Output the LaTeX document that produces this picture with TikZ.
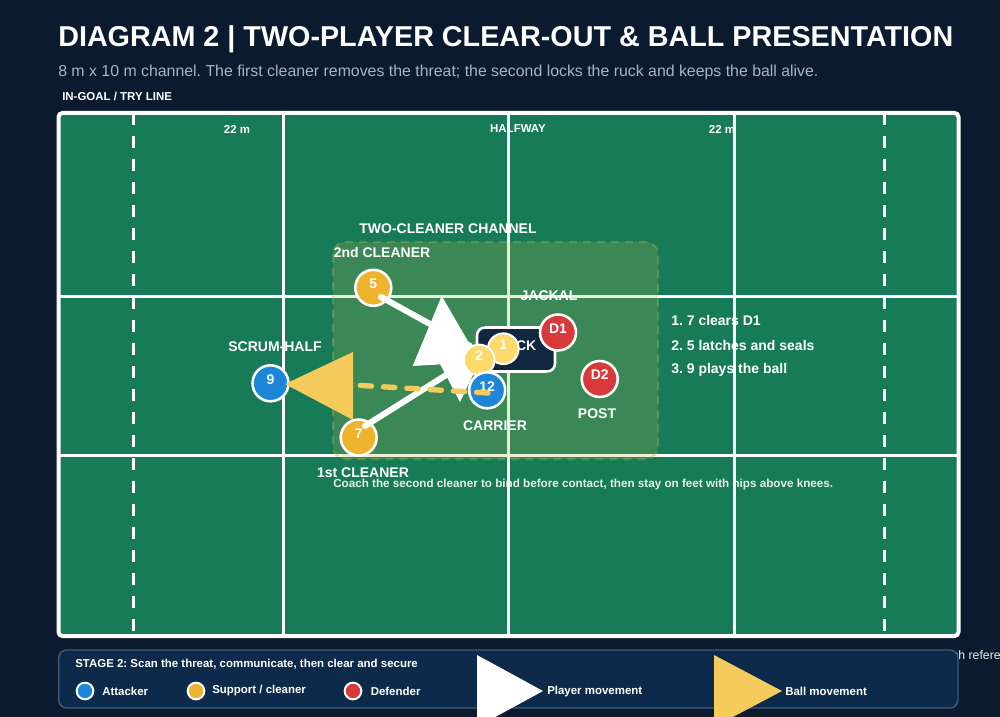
\documentclass[tikz,border=0pt]{standalone}
\usepackage{fontspec}
\setmainfont{Liberation Sans}
\frenchspacing
\definecolor{bg}{HTML}{0B1A2F}
\definecolor{field}{HTML}{187B57}
\definecolor{subt}{HTML}{A7B4C6}
\definecolor{navy}{HTML}{11263F}
\definecolor{pblue}{HTML}{1E86D8}
\definecolor{pyel}{HTML}{EEB42E}
\definecolor{plyel}{HTML}{FCD96A}
\definecolor{pred}{HTML}{D83A3C}
\definecolor{ball}{HTML}{F5CB5C}
\definecolor{legfill}{HTML}{0D2A4A}
\definecolor{legdraw}{HTML}{3D5C7C}
\definecolor{chan}{HTML}{ADB453}
\definecolor{note}{HTML}{E6EEE9}
\begin{document}
\begin{tikzpicture}[x=0.75pt,y=-0.75pt,
  fline/.style={white, line width=2.25pt},
  dline/.style={white, line width=2.25pt, dash pattern=on 9pt off 8.25pt},
  lbl/.style={font=\bfseries\fontsize{10.5}{12}\selectfont, text=white, inner sep=0pt},
  small/.style={font=\bfseries\fontsize{8.6}{10}\selectfont, text=white, inner sep=0pt},
  plr/.style={circle, draw=white, line width=1.9pt, minimum size=27pt, inner sep=0pt},
  splr/.style={circle, draw=white, line width=1.5pt, minimum size=23pt, inner sep=0pt, fill=plyel},
  num/.style={font=\bfseries\fontsize{10.5}{12}\selectfont, text=white, inner sep=0pt},
  mv/.style={white, line width=4.5pt, line cap=round},
  bl/.style={ball, line width=4pt, line cap=round, dash pattern=on 8.5pt off 9pt},
  leg/.style={font=\bfseries\fontsize{8.6}{10}\selectfont, text=white, inner sep=0pt, anchor=west},
  legc/.style={circle, draw=white, line width=1.5pt, minimum size=12.5pt, inner sep=0pt}
]
\useasboundingbox (0,0) rectangle (1000,717);
\clip (0,0) rectangle (1000,717);
\fill[bg] (0,0) rectangle (1000,717);

% header
\node[anchor=west, font=\bfseries\fontsize{21.55}{24}\selectfont, text=white, inner sep=0pt] (title) at (58,39) {DIAGRAM 2 | TWO-PLAYER CLEAR-OUT \& BALL PRESENTATION};
\node[anchor=west, font=\fontsize{11.9}{14}\selectfont, text=subt, inner sep=0pt] (subtitle) at (58,72.5) {8 m x 10 m channel. The first cleaner removes the threat; the second locks the ruck and keeps the ball alive.};
\node[small, anchor=west] (ingoal) at (62,96) {IN-GOAL / TRY LINE};

% stray text at right edge (under legend)
\node[anchor=west, font=\fontsize{9.2}{10}\selectfont, text=note, inner sep=0pt] (stray) at (952,655) {ch reference};

% field
\fill[field, rounded corners=3pt] (58.5,113) rectangle (958.5,636);
\node[small] (t22a) at (237,129) {22 m};
\node[small] (thalf) at (518,129) {HALFWAY};
\node[small] (t22b) at (722,129) {22 m};
\node[lbl, anchor=west] (s1) at (671,320) {1. 7 clears D1};
\node[lbl, anchor=west] (s2) at (671,345) {2. 5 latches and seals};
\node[lbl, anchor=west] (s3) at (671,370) {3. 9 plays the ball};
\node[anchor=west, font=\bfseries\fontsize{8.75}{10}\selectfont, text=note, inner sep=0pt] (coach) at (333,484) {Coach the second cleaner to bind before contact, then stay on feet with hips above knees.};

\draw[dline] (133,113) -- (133,636);
\draw[dline] (884,113) -- (884,636);
\draw[fline] (283,113) -- (283,636);
\draw[fline] (508,113) -- (508,636);
\draw[fline] (734,113) -- (734,636);
\draw[fline] (58.5,296) -- (958.5,296);
\draw[fline] (58.5,455) -- (958.5,455);
\draw[white, line width=3pt, rounded corners=3pt] (58.5,113) rectangle (958.5,636);

% channel
\fill[chan, fill opacity=0.24, rounded corners=9pt] (333,242) rectangle (658,459);
\draw[chan, draw opacity=0.35, line width=1.5pt, dash pattern=on 6pt off 4.5pt, rounded corners=9pt] (333,242) rectangle (658,459);

% labels
\node[lbl] (lchan) at (448,229) {TWO-CLEANER CHANNEL};
\node[lbl] (l2nd) at (382,252) {2nd CLEANER};
\node[lbl] (ljack) at (549,296) {JACKAL};
\node[lbl] (lsh) at (275,347) {SCRUM-HALF};
\node[lbl] (lpost) at (597,414) {POST};
\node[lbl] (lcarr) at (495,426) {CARRIER};
\node[lbl] (l1st) at (363,473) {1st CLEANER};

% players (first layer)
\node[plr, fill=pyel] (p5) at (373.3,287.8) {};
\node[num] (n5) at ([yshift=3pt]p5.center) {5};
\node[plr, fill=pyel] (p7) at (358.7,437.5) {};
\node[num] (n7) at ([yshift=3pt]p7.center) {7};
\node[plr, fill=pblue] (p9) at (270.5,383.3) {};
\node[num] (n9) at ([yshift=3pt]p9.center) {9};
\node[plr, fill=pred] (pD2) at (599.7,379) {};
\node[num] (nD2) at ([yshift=3pt]pD2.center) {D2};

% player movement
\coordinate (a5s) at (381,297);
\coordinate (a5e) at (470,346);
\coordinate (a7s) at (365,426);
\coordinate (a7e) at (470,360);
\draw[mv] (a5s) -- (a5e);
\draw[mv] (a7s) -- (a7e);
\fill[white] (441.7,296) -- (412.7,366) -- (480,362) -- cycle;
\fill[white] (460,402) -- (430,345) -- (485,350) -- cycle;

% ruck
\node[draw=white, line width=1.9pt, fill=navy, rounded corners=6pt, minimum width=58.5pt, minimum height=33pt, inner sep=0pt] (ruck) at (516,349.5) {};
\node[num] (nruck) at ([yshift=3pt]ruck.center) {RUCK};
\node[plr, fill=pred] (pD1) at (558,332.5) {};
\node[num] (nD1) at ([yshift=3pt]pD1.center) {D1};
\node[splr] (p1) at (503.3,348.7) {};
\node[num] (n1) at ([yshift=3pt]p1.center) {1};
\node[splr] (p2) at (479.2,360) {};
\node[num] (n2) at ([yshift=3pt]p2.center) {2};
\node[plr, fill=pblue] (p12) at (487.2,390.3) {};
\node[num] (n12) at ([yshift=3pt]p12.center) {12};

% ball movement
\coordinate (bs) at (488,393);
\coordinate (be) at (353,385);
\draw[bl] (bs) -- (be);
\fill[ball] (353,352) -- (353,420) -- (285,384) -- cycle;

% legend
\draw[legdraw, fill=legfill, line width=1.1pt, rounded corners=6pt] (58.7,650) rectangle (958,708);
\node[leg] (stage) at (75,664) {STAGE 2: Scan the threat, communicate, then clear and secure};
\node[legc, fill=pblue] (c1) at (85,691) {};
\node[leg] (lg1) at (102,691) {Attacker};
\node[legc, fill=pyel] (c2) at (196,691) {};
\node[leg] (lg2) at (212,691) {Support / cleaner};
\node[legc, fill=pred] (c3) at (353,691) {};
\node[leg] (lg3) at (370.5,691) {Defender};
\fill[white] (477,655) -- (477,727) -- (543,691) -- cycle;
\node[leg] (lg4) at (547,691.5) {Player movement};
\fill[ball] (714,655) -- (714,727) -- (782,691) -- cycle;
\node[leg] (lg5) at (785,691.5) {Ball movement};
\end{tikzpicture}
\end{document}
